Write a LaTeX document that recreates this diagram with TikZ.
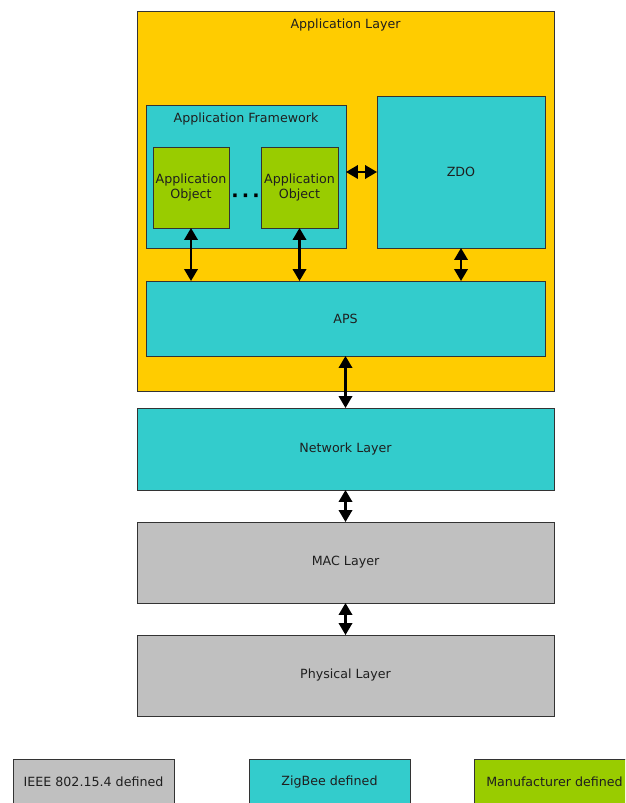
\documentclass[tikz,border=0pt]{standalone}
\usepackage{fontspec}
\setmainfont{DejaVu Sans}
\usetikzlibrary{positioning,arrows.meta}
\definecolor{applayer}{HTML}{FFCC00}
\definecolor{zigbee}{HTML}{33CCCC}
\definecolor{manuf}{HTML}{99CC00}
\definecolor{ieee}{HTML}{C0C0C0}
\definecolor{edge}{HTML}{333333}

\begin{document}
\begin{tikzpicture}[
    x=0.02cm, y=-0.02cm,
    every node/.style={font=\fontsize{7.2}{8.4}\selectfont, text=black!88},
    box/.style={rectangle, draw=edge, line width=0.5pt, inner sep=0pt, outer sep=0pt, align=center},
    link/.style={{Triangle[length=0.24cm,width=0.27cm]}-{Triangle[length=0.24cm,width=0.27cm]}, line width=1.2pt, black}
]
    \useasboundingbox (0,0) rectangle (625,803);
    \clip (0,0) rectangle (625,803);

    % Application layer and its parts
    \node[box, fill=applayer, minimum width=8.34cm, minimum height=7.6cm] (app) at (345.5,201) {};
    \node (applabel) at (345.5,25) {Application Layer};

    \node[box, fill=zigbee, minimum width=4.0cm, minimum height=2.86cm] (frame) at (246,176.5) {};
    \node (framelabel) at (246,119) {Application Framework};

    \node[box, fill=manuf, minimum width=1.52cm, minimum height=1.62cm] (obja) at (191,187.5) {Application\\Object};
    \node[box, fill=manuf, minimum width=1.54cm, minimum height=1.62cm] (objb) at (299.5,187.5) {Application\\Object};
    \node[font=\bfseries\fontsize{11}{11}\selectfont, text=black] (dots) at (245.5,198) {·\,·\,·};

    \node[box, fill=zigbee, minimum width=3.36cm, minimum height=3.04cm] (zdo) at (461,172) {ZDO};
    \node[box, fill=zigbee, minimum width=7.98cm, minimum height=1.5cm] (aps) at (345.5,318.5) {APS};

    % Lower layers
    \node[box, fill=zigbee, minimum width=8.34cm, minimum height=1.64cm] (nwk) at (345.5,449) {Network Layer};
    \node[box, fill=ieee, minimum width=8.34cm, minimum height=1.62cm] (mac) at (345.5,562.5) {MAC Layer};
    \node[box, fill=ieee, minimum width=8.34cm, minimum height=1.62cm] (phy) at (345.5,675.5) {Physical Layer};

    % Connections
    \draw[link] (frame.east |- zdo) -- (zdo.west);
    \draw[link] (obja.south) -- (obja.south |- aps.north);
    \draw[link] (objb.south) -- (objb.south |- aps.north);
    \draw[link] (zdo.south) -- (zdo.south |- aps.north);
    \draw[link] (aps.south) -- (nwk.north);
    \draw[link] (nwk.south) -- (mac.north);
    \draw[link] (mac.south) -- (phy.north);

    % Legend
    \node[box, fill=ieee, minimum width=3.22cm, minimum height=0.92cm] (keyieee) at (93.5,782) {IEEE 802.15.4 defined};
    \node[box, fill=zigbee, minimum width=3.22cm, minimum height=0.92cm] (keyzb) at (329.5,782) {ZigBee defined};
    \node[box, fill=manuf, minimum width=3.22cm, minimum height=0.92cm] (keymf) at (554.5,782) {Manufacturer defined};
\end{tikzpicture}
\end{document}
